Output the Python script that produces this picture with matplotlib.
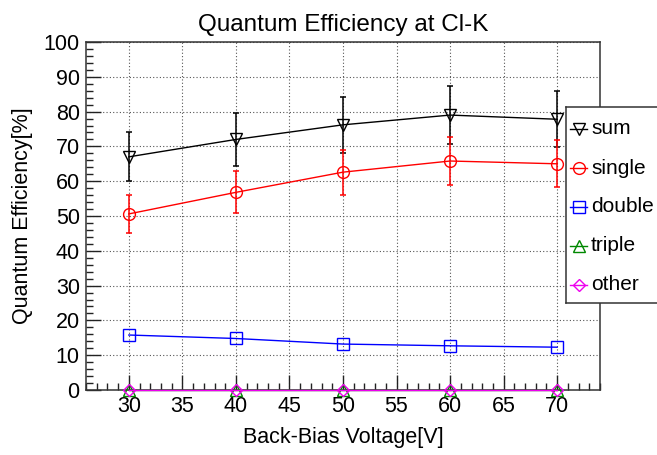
import matplotlib
matplotlib.use("Agg")
import matplotlib.pyplot as plt
from matplotlib.ticker import MultipleLocator

plt.rcParams['font.family'] = ['Liberation Sans', 'DejaVu Sans']

# data
voltage = [30, 40, 50, 60, 70]
qe_sum = [67.0, 72.0, 76.2, 79.0, 77.8]
err_sum = [7.0, 7.6, 8.0, 8.4, 8.0]
qe_single = [50.6, 56.8, 62.6, 65.8, 65.0]
err_single = [5.4, 6.0, 6.5, 7.0, 6.8]
qe_double = [15.8, 14.8, 13.2, 12.7, 12.3]
qe_triple = [0, 0, 0, 0, 0]
qe_other = [0, 0, 0, 0, 0]

labels = ['sum', 'single', 'double', 'triple', 'other']
colors = ['black', '#ff0000', '#0000ff', '#008800', '#ee00ee']
markers = ['v', 'o', 's', '^', 'D']

fig = plt.figure(figsize=(6.57, 4.55), dpi=100)
ax = fig.add_axes([86/657, 65/455, 514/657, 348/455])

series = [(qe_sum, err_sum), (qe_single, err_single), (qe_double, None),
          (qe_triple, None), (qe_other, None)]
for (vals, err), c, m in zip(series, colors, markers):
    if err is not None:
        ax.errorbar(voltage, vals, yerr=err, fmt='none', ecolor=c, elinewidth=1.1,
                    capsize=2, capthick=1.1, zorder=3)
    ms = 6.5 if m == 'D' else 8.5
    ax.plot(voltage, vals, color=c, lw=1.0, marker=m, ms=ms, mfc='none',
            mec=c, mew=1.0, clip_on=False, zorder=4)

ax.set_xlim(26, 74)
ax.set_ylim(0, 100)
ax.xaxis.set_major_locator(MultipleLocator(5))
ax.xaxis.set_minor_locator(MultipleLocator(1))
ax.yaxis.set_major_locator(MultipleLocator(10))
ax.yaxis.set_minor_locator(MultipleLocator(2))
ax.tick_params(which='both', direction='in', labelsize=15.5, top=False, right=False,
               width=1.0, color='#222222')
ax.tick_params(which='major', length=11, pad=4.5)
ax.tick_params(which='minor', length=5)
ax.grid(True, which='major', color='#555555', linestyle=(0, (1, 2)), lw=0.8)
for s in ax.spines.values():
    s.set_linewidth(1.1)
    s.set_color('#333333')

ax.set_title('Quantum Efficiency at Cl-K', fontsize=17.5, pad=8)
ax.set_xlabel('Back-Bias Voltage[V]', fontsize=15.5, labelpad=7)
ax.set_ylabel('Quantum Efficiency[%]', fontsize=15.5, labelpad=8)

# legend box, runs off the right edge like the original
leg = fig.add_axes([566/657, (455-303)/455, 100/657, 196/455])
leg.set_xlim(0, 100)
leg.set_ylim(196, 0)
leg.set_xticks([])
leg.set_yticks([])
leg.patch.set_facecolor('white')
for s in leg.spines.values():
    s.set_linewidth(1.1)
    s.set_color('#333333')
for i, (lab, c, m) in enumerate(zip(labels, colors, markers)):
    y = 22 + 39 * i
    leg.plot([4, 21], [y, y], color=c, lw=1.0)
    ms = 6.5 if m == 'D' else 8.5
    leg.plot([12.5], [y], color=c, marker=m, ms=ms, mfc='none', mec=c, mew=1.0)
    leg.text(25, y, lab, fontsize=15, va='center', ha='left')

fig.savefig('out.png', dpi=100)
